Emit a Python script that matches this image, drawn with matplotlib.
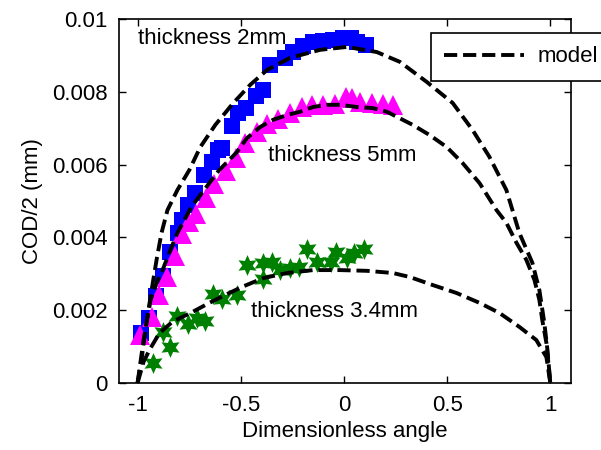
import numpy as np
import matplotlib
matplotlib.use("Agg")
import matplotlib.pyplot as plt

plt.rcParams['font.family'] = ['Liberation Sans', 'DejaVu Sans']
plt.rcParams['font.size'] = 16

# measured COD/2 (mm) vs dimensionless angle
x_2mm = [-0.981, -0.947, -0.913, -0.879, -0.841, -0.802, -0.783, -0.754, -0.720,
         -0.676, -0.638, -0.609, -0.589, -0.541, -0.512, -0.473, -0.425, -0.391,
         -0.357, -0.285, -0.246, -0.198, -0.150, -0.101, -0.053, -0.005, 0.034,
         0.063, 0.106]
y_2mm = [0.00137, 0.00179, 0.00239, 0.00294, 0.00360, 0.00412, 0.00448, 0.00489,
         0.00522, 0.00571, 0.00607, 0.00640, 0.00646, 0.00706, 0.00742, 0.00755,
         0.00788, 0.00805, 0.00874, 0.00893, 0.00909, 0.00926, 0.00937, 0.00940,
         0.00942, 0.00948, 0.00948, 0.00937, 0.00929]

x_5mm = [-0.990, -0.932, -0.894, -0.855, -0.821, -0.783, -0.749, -0.715, -0.667,
         -0.628, -0.570, -0.522, -0.478, -0.420, -0.372, -0.319, -0.261, -0.203,
         -0.155, -0.101, -0.043, 0.010, 0.039, 0.077, 0.135, 0.188, 0.237]
y_5mm = [0.00132, 0.00181, 0.00242, 0.00291, 0.00349, 0.00409, 0.00442, 0.00464,
         0.00508, 0.00547, 0.00582, 0.00618, 0.00659, 0.00690, 0.00712, 0.00725,
         0.00742, 0.00758, 0.00764, 0.00764, 0.00766, 0.00786, 0.00783, 0.00772,
         0.00769, 0.00766, 0.00764]

x_34mm = [-0.923, -0.879, -0.841, -0.807, -0.758, -0.710, -0.671, -0.633, -0.589,
          -0.517, -0.469, -0.391, -0.391, -0.348, -0.309, -0.261, -0.217, -0.179,
          -0.130, -0.063, -0.039, 0.014, 0.048, 0.097]
y_34mm = [0.00055, 0.00140, 0.00099, 0.00184, 0.00162, 0.00179, 0.00170, 0.00245,
          0.00231, 0.00242, 0.00324, 0.00330, 0.00286, 0.00332, 0.00310, 0.00316,
          0.00319, 0.00368, 0.00332, 0.00332, 0.00360, 0.00343, 0.00357, 0.00368]

# model curves
xm_2mm = [-1.0, -0.981, -0.957, -0.932, -0.908, -0.884, -0.855, -0.807, -0.749,
          -0.696, -0.623, -0.536, -0.454, -0.372, -0.261, -0.116, 0.014, 0.159,
          0.271, 0.401, 0.527, 0.623, 0.705, 0.787, 0.850, 0.913, 0.947, 0.971,
          0.986, 1.0]
ym_2mm = [0.0, 0.00063, 0.00165, 0.00255, 0.00338, 0.00412, 0.00475, 0.00530,
          0.00585, 0.00648, 0.00709, 0.00769, 0.00819, 0.00860, 0.00893, 0.00915,
          0.00923, 0.00909, 0.00882, 0.00827, 0.00769, 0.00695, 0.00621, 0.00530,
          0.00412, 0.00330, 0.00255, 0.00165, 0.00091, 0.0]

xm_5mm = [-1.0, -0.971, -0.937, -0.908, -0.879, -0.841, -0.807, -0.739, -0.667,
          -0.604, -0.522, -0.469, -0.406, -0.343, -0.275, -0.213, -0.150, -0.082,
          -0.019, 0.063, 0.140, 0.208, 0.333, 0.415, 0.498, 0.575, 0.657, 0.739,
          0.787, 0.836, 0.884, 0.923, 0.947, 0.961, 0.981, 1.0]
ym_5mm = [0.0, 0.00118, 0.00228, 0.00275, 0.00310, 0.00365, 0.00412, 0.00484,
          0.00538, 0.00585, 0.00632, 0.00673, 0.00703, 0.00723, 0.00736, 0.00745,
          0.00758, 0.00764, 0.00764, 0.00758, 0.00755, 0.00745, 0.00709, 0.00681,
          0.00648, 0.00604, 0.00549, 0.00475, 0.00440, 0.00385, 0.00338, 0.00283,
          0.00228, 0.00173, 0.00110, 0.0]

xm_34mm = [-1.0, -0.971, -0.942, -0.894, -0.831, -0.734, -0.652, -0.556, -0.493,
           -0.391, -0.275, -0.150, -0.019, 0.111, 0.237, 0.319, 0.430, 0.546,
           0.657, 0.754, 0.850, 0.932, 0.981, 1.0]
ym_34mm = [0.0, 0.00058, 0.00091, 0.00137, 0.00168, 0.00195, 0.00220, 0.00247,
           0.00264, 0.00288, 0.00302, 0.00310, 0.00310, 0.00308, 0.00302, 0.00291,
           0.00269, 0.00247, 0.00220, 0.00192, 0.00154, 0.00118, 0.00071, 0.0]

fig = plt.figure(figsize=(6.01, 4.5), dpi=100)
ax = fig.add_axes([0.198, 0.149, 0.752, 0.809])

ax.plot(x_2mm, y_2mm, 's', color='#0000ff', markersize=12, markeredgewidth=0)
ax.plot(x_5mm, y_5mm, '^', color='#ff00ff', markersize=14, markeredgewidth=0)
ax.plot(x_34mm, y_34mm, marker=(6, 1, 0), linestyle='none', color='#008000',
        markersize=15, markeredgewidth=0)

dash = dict(color='black', linewidth=2.8, linestyle=(0, (3.4, 1.5)))
ax.plot(xm_2mm, ym_2mm, label='model', **dash)
ax.plot(xm_5mm, ym_5mm, **dash)
ax.plot(xm_34mm, ym_34mm, **dash)

ax.text(-1.0, 0.0093, 'thickness 2mm')
ax.text(-0.37, 0.0061, 'thickness 5mm')
ax.text(-0.45, 0.0018, 'thickness 3.4mm')

ax.set_xlim(-1.09, 1.1)
ax.set_ylim(0, 0.01)
ax.set_xticks([-1, -0.5, 0, 0.5, 1])
ax.set_xticklabels(['-1', '-0.5', '0', '0.5', '1'])
ax.set_yticks([0, 0.002, 0.004, 0.006, 0.008, 0.01])
ax.set_yticklabels(['0', '0.002', '0.004', '0.006', '0.008', '0.01'])
ax.tick_params(direction='in', top=True, right=True, length=5, width=1)
ax.tick_params(axis='x', pad=9)
ax.tick_params(axis='y', pad=8)
for s in ax.spines.values():
    s.set_linewidth(1.2)

ax.set_xlabel('Dimensionless angle', labelpad=3)
ax.set_ylabel('COD/2 (mm)', labelpad=7)

leg = ax.legend(loc='upper left', bbox_to_anchor=(431 / 601, 1 - 33 / 450),
                bbox_transform=fig.transFigure, borderaxespad=0,
                fancybox=False, framealpha=1, edgecolor='black',
                handlelength=3.6, handletextpad=0.6, borderpad=0.6)
leg.get_frame().set_linewidth(1.2)

fig.savefig('out.png', dpi=100)
